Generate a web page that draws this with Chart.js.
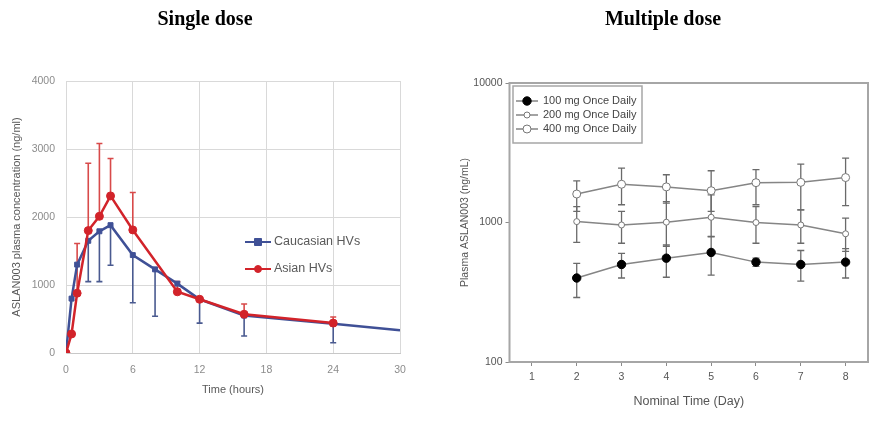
<!DOCTYPE html>
<html><head><meta charset="utf-8">
<script src="https://cdn.jsdelivr.net/npm/chart.js@4.4.1/dist/chart.umd.min.js"></script>
<style>
html,body{margin:0;padding:0;background:#fff;width:875px;height:423px;overflow:hidden}
#c1{position:absolute;left:0;top:0}
#c2{position:absolute;left:440px;top:0}
</style></head><body>
<canvas id="c1" width="440" height="423"></canvas>
<canvas id="c2" width="435" height="423"></canvas>
<script>
// ---- Single dose (linear) ----
const cauTime  = [0, 0.5, 1, 2, 3, 4, 6, 8, 10, 12, 16, 24, 30];
const cauMean  = [0, 800, 1300, 1650, 1790, 1880, 1440, 1230, 1020, 790, 550, 430, 335];
const cauLower = [null, null, null, 1050, 1050, 1290, 740, 540, null, 440, 250, 150, null];
const asianTime  = [0, 0.5, 1, 2, 3, 4, 6, 10, 12, 16, 24];
const asianMean  = [0, 280, 880, 1800, 2010, 2310, 1810, 900, 790, 570, 440];
const asianUpper = [null, null, 1610, 2790, 3080, 2860, 2360, 1050, null, 720, 530];
const singleXTicks = [0, 6, 12, 18, 24, 30];
const singleYTicks = [0, 1000, 2000, 3000, 4000];

// ---- Multiple dose (log) ----
const days = [2, 3, 4, 5, 6, 7, 8];
const mean100  = [400, 500, 555, 610, 520, 500, 520];
const upper100 = [510, 600, 690, 790, 555, 630, 650];
const lower100 = [290, 400, 405, 420, 485, 380, 400];
const mean200  = [1015, 960, 1005, 1090, 1000, 960, 830];
const upper200 = [1300, 1200, 1410, 1580, 1300, 1230, 1075];
const lower200 = [720, 710, 675, 795, 710, 710, 620];
const mean400  = [1600, 1880, 1800, 1690, 1930, 1940, 2100];
const upper400 = [1990, 2450, 2200, 2350, 2390, 2620, 2890];
const lower400 = [1200, 1340, 1375, 1200, 1340, 1230, 1320];
const dayTicks = [1, 2, 3, 4, 5, 6, 7, 8];
const logTicks = [100, 1000, 10000];

Chart.defaults.font.family = "'Liberation Sans', Arial, sans-serif";
Chart.defaults.animation = false;

const zip = (xs, ys) => xs.map((x, i) => ({x: x, y: ys[i]}));

const errorBars = {
  id: 'errorBars',
  beforeDatasetsDraw(chart) {
    const ctx = chart.ctx, xs = chart.scales.x, ys = chart.scales.y;
    chart.data.datasets.forEach(ds => {
      if (!ds.errUpper && !ds.errLower) return;
      ctx.save();
      ctx.strokeStyle = ds.errColor; ctx.lineWidth = ds.errWidth;
      const cap = ds.errCap;
      ds.data.forEach((p, j) => {
        const x = xs.getPixelForValue(p.x), y = ys.getPixelForValue(p.y);
        [ds.errUpper, ds.errLower].forEach(arr => {
          if (!arr || arr[j] == null) return;
          const ye = ys.getPixelForValue(arr[j]);
          ctx.beginPath();
          ctx.moveTo(x, y); ctx.lineTo(x, ye);
          ctx.moveTo(x - cap, ye); ctx.lineTo(x + cap, ye);
          ctx.stroke();
        });
      });
      ctx.restore();
    });
  }
};

const boxLegend = {
  id: 'boxLegend',
  afterDraw(chart, args, o) {
    if (!o || !o.items) return;
    const ctx = chart.ctx;
    ctx.save();
    if (o.box) {
      ctx.strokeStyle = o.box.color; ctx.lineWidth = o.box.width;
      ctx.strokeRect(o.box.x, o.box.y, o.box.w, o.box.h);
    }
    o.items.forEach((it, k) => {
      const ds = chart.data.datasets[it.index];
      const y = o.ys[k];
      ctx.strokeStyle = ds.borderColor; ctx.lineWidth = o.lineWidth || ds.borderWidth;
      ctx.beginPath(); ctx.moveTo(o.x0, y); ctx.lineTo(o.x1, y); ctx.stroke();
      const mx = (o.x0 + o.x1) / 2;
      const r = o.r || (Array.isArray(ds.pointRadius) ? ds.pointRadius[1] : ds.pointRadius);
      ctx.fillStyle = ds.pointBackgroundColor; ctx.strokeStyle = ds.pointBorderColor;
      ctx.lineWidth = ds.pointBorderWidth || 1;
      ctx.beginPath();
      if (ds.pointStyle === 'rect') ctx.rect(mx - r, y - r, 2 * r, 2 * r);
      else ctx.arc(mx, y, r, 0, Math.PI * 2);
      ctx.fill(); ctx.stroke();
      ctx.fillStyle = o.color; ctx.font = o.font;
      ctx.textBaseline = 'middle'; ctx.textAlign = 'left';
      ctx.fillText(ds.label, o.tx, y);
    });
    ctx.restore();
  }
};

const frame = {
  id: 'frame',
  afterDraw(chart, args, o) {
    if (!o || !o.color) return;
    const a = chart.chartArea, ctx = chart.ctx;
    ctx.save(); ctx.strokeStyle = o.color; ctx.lineWidth = o.width;
    ctx.strokeRect(a.left, a.top, a.right - a.left, a.bottom - a.top);
    ctx.restore();
  }
};

const BLUE = '#3f5096', RED = '#d2232a';
const TITLE_FONT = { family: "'Liberation Serif', 'Times New Roman', serif", size: 20, weight: 'bold' };

new Chart(document.getElementById('c1'), {
  type: 'line',
  data: {
    datasets: [
      { label: 'Caucasian HVs', data: zip(cauTime, cauMean), order: 1,
        borderColor: BLUE, backgroundColor: BLUE, borderWidth: 2.5,
        pointStyle: 'rect', pointRadius: cauTime.map(t => t === 30 ? 0 : 3.5),
        pointBackgroundColor: BLUE, pointBorderColor: BLUE, pointBorderWidth: 1,
        errLower: cauLower, errColor: '#4a5a90', errWidth: 1.6, errCap: 3 },
      { label: 'Asian HVs', data: zip(asianTime, asianMean), order: 0,
        borderColor: RED, backgroundColor: RED, borderWidth: 2.5,
        pointStyle: 'circle', pointRadius: 4,
        pointBackgroundColor: RED, pointBorderColor: RED, pointBorderWidth: 1,
        errUpper: asianUpper, errColor: '#d84a4a', errWidth: 1.6, errCap: 3 }
    ]
  },
  options: {
    responsive: false,
    layout: { padding: { left: 10, right: 40, top: 0, bottom: 0 } },
    scales: {
      x: { type: 'linear', min: 0, max: 30,
        afterBuildTicks: s => { s.ticks = singleXTicks.map(v => ({value: v})); },
        afterFit: s => { s.height = 70; },
        grid: { color: '#d9d9d9', drawTicks: false },
        border: { color: '#c8c8c8' },
        ticks: { padding: 11, color: '#8c8c8c', font: { size: 10.5 } },
        title: { display: true, text: 'Time (hours)', color: '#595959', font: { size: 11 }, padding: { top: 0, bottom: 26.4 } } },
      y: { type: 'linear', min: 0, max: 4000,
        afterBuildTicks: s => { s.ticks = singleYTicks.map(v => ({value: v})); },
        afterFit: s => { s.width = 56; },
        grid: { color: '#d9d9d9', drawTicks: false },
        border: { color: '#d9d9d9' },
        ticks: { padding: 11, color: '#8c8c8c', font: { size: 10.5 }, callback: v => String(v) },
        title: { display: true, text: 'ASLAN003 plasma concentration (ng/ml)', color: '#595959', font: { size: 11 }, padding: { top: 0.4, bottom: 0 } } }
    },
    plugins: {
      legend: { display: false }, tooltip: { enabled: false },
      title: { display: true, text: 'Single dose', color: '#000', font: TITLE_FONT,
        padding: { top: 8, bottom: 49 } },
      boxLegend: { items: [{index: 0}, {index: 1}], x0: 245, x1: 271, tx: 274, ys: [242, 269],
        lineWidth: 2, r: 3.5,
        color: '#595959', font: "12.5px 'Liberation Sans', Arial, sans-serif" }
    }
  },
  plugins: [errorBars, boxLegend]
});

const GRAY = '#858585';
const mk = (label, ys, up, lo, fill, r) => ({
  label: label, data: zip(days, ys),
  borderColor: GRAY, backgroundColor: fill, borderWidth: 1.5,
  pointStyle: 'circle', pointRadius: r,
  pointBackgroundColor: fill, pointBorderColor: fill === '#000' ? '#000' : '#777', pointBorderWidth: 1,
  errUpper: up, errLower: lo, errColor: '#6a6a6a', errWidth: 1.3, errCap: 3.5
});

new Chart(document.getElementById('c2'), {
  type: 'line',
  data: {
    datasets: [
      mk('100 mg Once Daily', mean100, upper100, lower100, '#000', 4.2),
      mk('200 mg Once Daily', mean200, upper200, lower200, '#fff', 3),
      mk('400 mg Once Daily', mean400, upper400, lower400, '#fff', 4)
    ]
  },
  options: {
    responsive: false,
    layout: { padding: { left: 18, right: 7, top: 0, bottom: 0 } },
    scales: {
      x: { type: 'linear', min: 0.5, max: 8.5,
        afterBuildTicks: s => { s.ticks = dayTicks.map(v => ({value: v})); },
        afterFit: s => { s.height = 61; },
        grid: { display: true, drawOnChartArea: false, color: '#8a8a8a', tickLength: 4 },
        border: { display: false },
        ticks: { padding: 5, color: '#555', font: { size: 10.5 }, callback: v => String(v) },
        title: { display: true, text: 'Nominal Time (Day)', color: '#555', font: { size: 12.5 }, padding: { top: 0, bottom: 13.5 } } },
      y: { type: 'logarithmic', min: 100, max: 10000,
        afterBuildTicks: s => { s.ticks = logTicks.map(v => ({value: v})); },
        afterFit: s => { s.width = 51.5; },
        grid: { display: true, drawOnChartArea: false, color: '#8a8a8a', tickLength: 4 },
        border: { display: false },
        ticks: { padding: 3, color: '#555', font: { size: 10.5 }, callback: v => String(v) },
        title: { display: true, text: 'Plasma ASLAN003 (ng/mL)', color: '#555', font: { size: 10.5 }, padding: { top: 1, bottom: 0 } } }
    },
    plugins: {
      legend: { display: false }, tooltip: { enabled: false },
      title: { display: true, text: 'Multiple dose', color: '#000', font: TITLE_FONT,
        padding: { top: 8, bottom: 51 } },
      frame: { color: '#a6a6a6', width: 2 },
      boxLegend: { items: [{index: 0}, {index: 1}, {index: 2}], x0: 76, x1: 98, tx: 103, ys: [101, 115, 129],
        box: { x: 73, y: 86, w: 129, h: 57, color: '#a6a6a6', width: 1.5 },
        color: '#444', font: "11px 'Liberation Sans', Arial, sans-serif" }
    }
  },
  plugins: [errorBars, boxLegend, frame]
});
</script>
</body></html>
